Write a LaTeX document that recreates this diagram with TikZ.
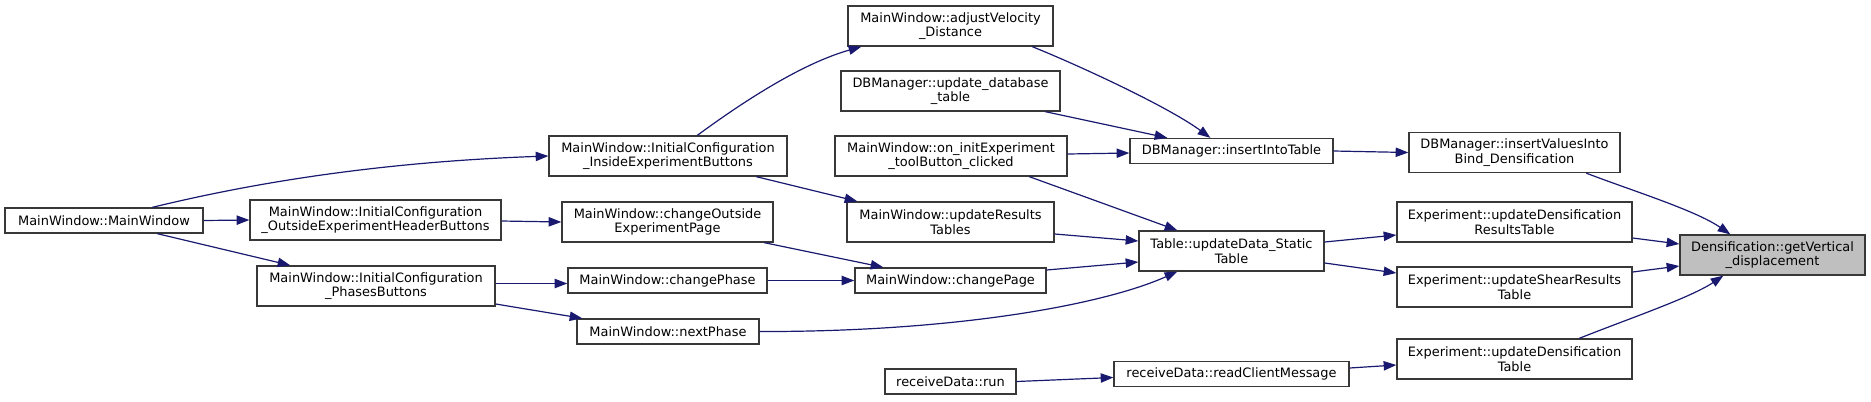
\documentclass[tikz,border=0pt]{standalone}
\usepackage{fontspec}
\setmainfont{DejaVu Sans}
\usetikzlibrary{arrows.meta,calc}
\definecolor{edgecol}{HTML}{191970}
\definecolor{boxline}{HTML}{383838}
\definecolor{hl}{HTML}{BFBFBF}
\tikzset{
  gbox/.style={draw=boxline, line width=1pt, fill=white, inner sep=0pt, align=center,
    font=\fontsize{9.7}{10.8}\selectfont},
  hlbox/.style={gbox, fill=hl},
  edge/.style={draw=edgecol, line width=0.9pt, -{Triangle[length=9.5pt,width=7pt]}},
}
\begin{document}
\begin{tikzpicture}[x=0.75pt,y=-0.75pt]
\useasboundingbox (0,0) rectangle (1871,401);
% column 1
\node[gbox, minimum width=198*0.75pt, minimum height=25*0.75pt] (mw) at (104,220.5) {MainWindow::MainWindow};
% column 2
\node[gbox, minimum width=251*0.75pt, minimum height=40*0.75pt] (ohb) at (375.5,220) {MainWindow::InitialConfiguration\\\_OutsideExperimentHeaderButtons};
\node[gbox, minimum width=238*0.75pt, minimum height=40*0.75pt] (pb) at (376,286) {MainWindow::InitialConfiguration\\\_PhasesButtons};
% column 3
\node[gbox, minimum width=238*0.75pt, minimum height=40*0.75pt] (ieb) at (668,156) {MainWindow::InitialConfiguration\\\_InsideExperimentButtons};
\node[gbox, minimum width=211*0.75pt, minimum height=40*0.75pt] (coep) at (667.5,222) {MainWindow::changeOutside\\ExperimentPage};
\node[gbox, minimum width=199*0.75pt, minimum height=25*0.75pt] (cph) at (667.5,280.5) {MainWindow::changePhase};
\node[gbox, minimum width=182*0.75pt, minimum height=25*0.75pt] (nph) at (668,331.5) {MainWindow::nextPhase};
% column 4
\node[gbox, minimum width=205*0.75pt, minimum height=40*0.75pt] (av) at (950.5,26) {MainWindow::adjustVelocity\\\_Distance};
\node[gbox, minimum width=219*0.75pt, minimum height=40*0.75pt] (udt) at (950.5,91) {DBManager::update\_database\\\_table};
\node[gbox, minimum width=232*0.75pt, minimum height=40*0.75pt] (oie) at (951,156) {MainWindow::on\_initExperiment\\\_toolButton\_clicked};
\node[gbox, minimum width=207*0.75pt, minimum height=40*0.75pt] (urt) at (950.5,222) {MainWindow::updateResults\\Tables};
\node[gbox, minimum width=191*0.75pt, minimum height=25*0.75pt] (cpg) at (950.5,280.5) {MainWindow::changePage};
\node[gbox, minimum width=131*0.75pt, minimum height=25*0.75pt] (rdr) at (950.5,381.5) {receiveData::run};
% column 5
\node[gbox, minimum width=203*0.75pt, minimum height=25*0.75pt] (iit) at (1231.5,151) {DBManager::insertIntoTable};
\node[gbox, minimum width=185*0.75pt, minimum height=40*0.75pt] (uds) at (1231.5,251) {Table::updateData\_Static\\Table};
\node[gbox, minimum width=235*0.75pt, minimum height=25*0.75pt] (rcm) at (1231.5,374) {receiveData::readClientMessage};
% column 6
\node[gbox, minimum width=211*0.75pt, minimum height=40*0.75pt] (ivb) at (1514.5,152.5) {DBManager::insertValuesInto\\Bind\_Densification};
\node[gbox, minimum width=235*0.75pt, minimum height=40*0.75pt] (edr) at (1514.5,222) {Experiment::updateDensification\\ResultsTable};
\node[gbox, minimum width=235*0.75pt, minimum height=40*0.75pt] (esr) at (1514.5,287) {Experiment::updateShearResults\\Table};
\node[gbox, minimum width=235*0.75pt, minimum height=40*0.75pt] (edt) at (1514.5,359) {Experiment::updateDensification\\Table};
% column 7
\node[hlbox, minimum width=185*0.75pt, minimum height=40*0.75pt] (den) at (1772.5,255) {Densification::getVertical\\\_displacement};

% edges
\draw[edge] ($(mw.north west)+(148,0)$) .. controls (220,191) and (350,163) .. (ieb.west);
\draw[edge] (mw.east) -- (ohb.west);
\draw[edge] ($(mw.south west)+(153,0)$) -- ($(pb.north west)+(34,0)$);
\draw[edge] ($(ieb.north west)+(149,0)$) .. controls (740,104) and (800,64) .. ($(av.south west)+(14,0)$);
\draw[edge] ($(ieb.south west)+(208,0)$) -- ($(urt.north west)+(11,0)$);
\draw[edge] ($(av.south west)+(185,0)$) .. controls (1085,68) and (1170,108) .. ($(iit.north west)+(81,0)$);
\draw[edge] ($(udt.south west)+(205,0)$) -- ($(iit.north west)+(38,0)$);
\draw[edge] ($(oie.east)+(0,-2)$) -- ($(iit.west)+(0,2)$);
\draw[edge] ($(oie.south west)+(195,0)$) -- ($(uds.north west)+(39,0)$);
\draw[edge] ($(urt.east)+(0,12)$) -- ($(uds.west)+(0,-10)$);
\draw[edge] ($(cpg.east)+(0,-10.5)$) -- ($(uds.west)+(0,11)$);
\draw[edge] (nph.east) .. controls (950,332) and (1100,306) .. ($(uds.south west)+(39,0)$);
\draw[edge] ($(ohb.east)+(0,1)$) -- (coep.west);
\draw[edge] ($(coep.south west)+(203,0)$) -- ($(cpg.north west)+(29,0)$);
\draw[edge] ($(pb.east)+(0,-2.5)$) -- ($(cph.west)+(0,3)$);
\draw[edge] ($(pb.east)+(0,18)$) -- ($(nph.north west)+(6,0)$);
\draw[edge] (cph.east) -- (cpg.west);
\draw[edge] (rdr.east) -- ($(rcm.west)+(0,3.5)$);
\draw[edge] ($(rcm.east)+(0,-6)$) -- ($(edt.west)+(0,6)$);
\draw[edge] (iit.east) -- (ivb.west);
\draw[edge] ($(uds.east)+(0,-9)$) -- ($(edr.west)+(0,13)$);
\draw[edge] ($(uds.east)+(0,12)$) -- ($(esr.west)+(0,-14)$);
\draw[edge] ($(ivb.south west)+(178,0)$) .. controls (1630,190) and (1695,210) .. ($(den.north west)+(51,0)$);
\draw[edge] ($(edr.east)+(0,16)$) -- ($(den.west)+(0,-11)$);
\draw[edge] ($(esr.east)+(0,-15)$) -- ($(den.west)+(0,11)$);
\draw[edge] ($(edt.north west)+(183,0)$) .. controls (1625,320) and (1690,298) .. ($(den.south west)+(44,0)$);
\end{tikzpicture}
\end{document}
